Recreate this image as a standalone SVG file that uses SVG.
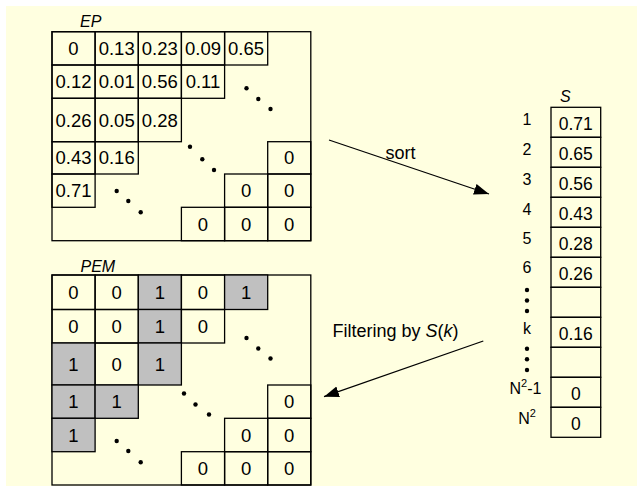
<svg xmlns="http://www.w3.org/2000/svg" width="637" height="486" viewBox="0 0 637 486">
<style>
.c{fill:none;stroke:#000;stroke-width:1.3}
.g{fill:#C0C0C0;stroke:#000;stroke-width:1.3}
.t{font-family:"Liberation Sans",Arial,sans-serif;font-size:18.5px;text-anchor:middle;fill:#000}
.s{font-family:"Liberation Sans",Arial,sans-serif;font-size:17.5px;text-anchor:middle;fill:#000}
.l{font-family:"Liberation Sans",Arial,sans-serif;font-size:16px;text-anchor:middle;fill:#000}
.h{font-family:"Liberation Sans",Arial,sans-serif;font-size:16px;font-style:italic;fill:#000}
.a{font-family:"Liberation Sans",Arial,sans-serif;font-size:18px;fill:#000}
.d{fill:#000}
.w{stroke:#000;stroke-width:1.3;fill:none}
</style>
<defs>
<marker id="arr" markerUnits="userSpaceOnUse" markerWidth="16" markerHeight="12" refX="15" refY="5.5" orient="auto">
<path d="M0,0 L15,5.5 L0,11 z" fill="#000"/>
</marker>
</defs>
<rect x="6" y="6" width="631" height="480" fill="#FFFFE0"/>

<g id="EP">
<text class="h" x="80" y="26.5">EP</text>
<rect class="c" x="52" y="31.7" width="258.8" height="209"/>
<!-- row 0 -->
<rect class="c" x="52" y="31.7" width="43.1" height="33.3"/>
<rect class="c" x="95.1" y="31.7" width="43.2" height="33.3"/>
<rect class="c" x="138.3" y="31.7" width="43.1" height="33.3"/>
<rect class="c" x="181.4" y="31.7" width="43.2" height="33.3"/>
<rect class="c" x="224.6" y="31.7" width="43.1" height="33.3"/>
<text class="t" x="73.5" y="55">0</text>
<text class="t" x="116.7" y="55">0.13</text>
<text class="t" x="159.8" y="55">0.23</text>
<text class="t" x="203" y="55">0.09</text>
<text class="t" x="246.1" y="55">0.65</text>
<!-- row 1 -->
<rect class="c" x="52" y="65" width="43.1" height="33.3"/>
<rect class="c" x="95.1" y="65" width="43.2" height="33.3"/>
<rect class="c" x="138.3" y="65" width="43.1" height="33.3"/>
<rect class="c" x="181.4" y="65" width="43.2" height="33.3"/>
<text class="t" x="73.5" y="88.3">0.12</text>
<text class="t" x="116.7" y="88.3">0.01</text>
<text class="t" x="159.8" y="88.3">0.56</text>
<text class="t" x="203" y="88.3">0.11</text>
<!-- row 2 -->
<rect class="c" x="52" y="98.3" width="43.1" height="43.4"/>
<rect class="c" x="95.1" y="98.3" width="43.2" height="43.4"/>
<rect class="c" x="138.3" y="98.3" width="43.1" height="43.4"/>
<text class="t" x="73.5" y="126.6">0.26</text>
<text class="t" x="116.7" y="126.6">0.05</text>
<text class="t" x="159.8" y="126.6">0.28</text>
<!-- row 3 -->
<rect class="c" x="52" y="141.7" width="43.1" height="32.3"/>
<rect class="c" x="95.1" y="141.7" width="43.2" height="32.3"/>
<rect class="c" x="267.7" y="141.7" width="43.1" height="32.3"/>
<text class="t" x="73.5" y="164.4">0.43</text>
<text class="t" x="116.7" y="164.4">0.16</text>
<text class="t" x="289.2" y="164.4">0</text>
<!-- row 4 -->
<rect class="c" x="52" y="174" width="43.1" height="33.3"/>
<rect class="c" x="224.6" y="174" width="43.1" height="33.3"/>
<rect class="c" x="267.7" y="174" width="43.1" height="33.3"/>
<text class="t" x="73.5" y="197.3">0.71</text>
<text class="t" x="246.1" y="197.3">0</text>
<text class="t" x="289.2" y="197.3">0</text>
<!-- row 5 -->
<rect class="c" x="181.4" y="207.3" width="43.2" height="33.4"/>
<rect class="c" x="224.6" y="207.3" width="43.1" height="33.4"/>
<rect class="c" x="267.7" y="207.3" width="43.1" height="33.4"/>
<text class="t" x="203" y="230.7">0</text>
<text class="t" x="246.1" y="230.7">0</text>
<text class="t" x="289.2" y="230.7">0</text>
<!-- dots -->
<circle class="d" cx="246.5" cy="88.3" r="2.2"/>
<circle class="d" cx="258.3" cy="99" r="2.2"/>
<circle class="d" cx="270.5" cy="109" r="2.2"/>
<circle class="d" cx="190" cy="146.7" r="2.2"/>
<circle class="d" cx="202.3" cy="159.3" r="2.2"/>
<circle class="d" cx="214" cy="170" r="2.2"/>
<circle class="d" cx="116.7" cy="191" r="2.2"/>
<circle class="d" cx="128.3" cy="201" r="2.2"/>
<circle class="d" cx="140.7" cy="212.3" r="2.2"/>
</g>

<g id="PEM">
<text class="h" x="80.5" y="271.5">PEM</text>
<rect class="c" x="52" y="275" width="258.8" height="210"/>
<!-- row 0 -->
<rect class="c" x="52" y="275" width="43.1" height="34.5"/>
<rect class="c" x="95.1" y="275" width="43.2" height="34.5"/>
<rect class="g" x="138.3" y="275" width="43.1" height="34.5"/>
<rect class="c" x="181.4" y="275" width="43.2" height="34.5"/>
<rect class="g" x="224.6" y="275" width="43.1" height="34.5"/>
<text class="t" x="73.5" y="299">0</text>
<text class="t" x="116.7" y="299">0</text>
<text class="t" x="159.8" y="299">1</text>
<text class="t" x="203" y="299">0</text>
<text class="t" x="246.1" y="299">1</text>
<!-- row 1 -->
<rect class="c" x="52" y="309.5" width="43.1" height="33.5"/>
<rect class="c" x="95.1" y="309.5" width="43.2" height="33.5"/>
<rect class="g" x="138.3" y="309.5" width="43.1" height="33.5"/>
<rect class="c" x="181.4" y="309.5" width="43.2" height="33.5"/>
<text class="t" x="73.5" y="333">0</text>
<text class="t" x="116.7" y="333">0</text>
<text class="t" x="159.8" y="333">1</text>
<text class="t" x="203" y="333">0</text>
<!-- row 2 -->
<rect class="g" x="52" y="343" width="43.1" height="42"/>
<rect class="c" x="95.1" y="343" width="43.2" height="42"/>
<rect class="g" x="138.3" y="343" width="43.1" height="42"/>
<text class="t" x="73.5" y="370.5">1</text>
<text class="t" x="116.7" y="370.5">0</text>
<text class="t" x="159.8" y="370.5">1</text>
<!-- row 3 -->
<rect class="g" x="52" y="385" width="43.1" height="33.3"/>
<rect class="g" x="95.1" y="385" width="43.2" height="33.3"/>
<rect class="c" x="267.7" y="385" width="43.1" height="33.3"/>
<text class="t" x="73.5" y="408.3">1</text>
<text class="t" x="116.7" y="408.3">1</text>
<text class="t" x="289.2" y="408.3">0</text>
<!-- row 4 -->
<rect class="g" x="52" y="418.3" width="43.1" height="33.4"/>
<rect class="c" x="224.6" y="418.3" width="43.1" height="33.4"/>
<rect class="c" x="267.7" y="418.3" width="43.1" height="33.4"/>
<text class="t" x="73.5" y="441.6">1</text>
<text class="t" x="246.1" y="441.6">0</text>
<text class="t" x="289.2" y="441.6">0</text>
<!-- row 5 -->
<rect class="c" x="181.4" y="451.7" width="43.2" height="33.3"/>
<rect class="c" x="224.6" y="451.7" width="43.1" height="33.3"/>
<rect class="c" x="267.7" y="451.7" width="43.1" height="33.3"/>
<text class="t" x="203" y="475">0</text>
<text class="t" x="246.1" y="475">0</text>
<text class="t" x="289.2" y="475">0</text>
<!-- dots -->
<circle class="d" cx="246.5" cy="338" r="2.2"/>
<circle class="d" cx="258.3" cy="348.5" r="2.2"/>
<circle class="d" cx="270.5" cy="358.5" r="2.2"/>
<circle class="d" cx="184" cy="393.5" r="2.2"/>
<circle class="d" cx="195.5" cy="404.5" r="2.2"/>
<circle class="d" cx="209" cy="414.5" r="2.2"/>
<circle class="d" cx="116.7" cy="441" r="2.2"/>
<circle class="d" cx="128.3" cy="451" r="2.2"/>
<circle class="d" cx="140.7" cy="462.3" r="2.2"/>
</g>

<g id="S">
<text class="h" x="560" y="101.5">S</text>
<rect class="c" x="551" y="107.3" width="49.7" height="30"/>
<rect class="c" x="551" y="137.3" width="49.7" height="30"/>
<rect class="c" x="551" y="167.3" width="49.7" height="30"/>
<rect class="c" x="551" y="197.3" width="49.7" height="30"/>
<rect class="c" x="551" y="227.3" width="49.7" height="30"/>
<rect class="c" x="551" y="257.3" width="49.7" height="30"/>
<rect class="c" x="551" y="287.3" width="49.7" height="30"/>
<rect class="c" x="551" y="317.3" width="49.7" height="30"/>
<rect class="c" x="551" y="347.3" width="49.7" height="30"/>
<rect class="c" x="551" y="377.3" width="49.7" height="30"/>
<rect class="c" x="551" y="407.3" width="49.7" height="30"/>
<text class="s" x="575.8" y="130">0.71</text>
<text class="s" x="575.8" y="160">0.65</text>
<text class="s" x="575.8" y="190">0.56</text>
<text class="s" x="575.8" y="220">0.43</text>
<text class="s" x="575.8" y="250">0.28</text>
<text class="s" x="575.8" y="280">0.26</text>
<text class="s" x="575.8" y="340">0.16</text>
<text class="s" x="575.8" y="400">0</text>
<text class="s" x="575.8" y="430">0</text>
<text class="l" x="527" y="125">1</text>
<text class="l" x="527" y="155">2</text>
<text class="l" x="527" y="184.5">3</text>
<text class="l" x="527" y="215">4</text>
<text class="l" x="527" y="244">5</text>
<text class="l" x="527" y="273">6</text>
<text class="l" x="527" y="333.5">k</text>
<text class="l" x="525.5" y="393.5">N<tspan font-size="11" dy="-7">2</tspan><tspan dy="7">-1</tspan></text>
<text class="l" x="527" y="423.5">N<tspan font-size="11" dy="-7">2</tspan></text>
<circle class="d" cx="527" cy="290" r="2.2"/>
<circle class="d" cx="527" cy="300.5" r="2.2"/>
<circle class="d" cx="527" cy="311" r="2.2"/>
<circle class="d" cx="527" cy="348.7" r="2.2"/>
<circle class="d" cx="527" cy="359.3" r="2.2"/>
<circle class="d" cx="527" cy="370" r="2.2"/>
</g>

<g id="connectors">
<line class="w" x1="329" y1="140" x2="489" y2="194" marker-end="url(#arr)"/>
<text class="a" x="385.5" y="158.5">sort</text>
<line class="w" x1="483.3" y1="341" x2="324" y2="396.7" marker-end="url(#arr)"/>
<text class="a" x="332.5" y="336.5">Filtering by <tspan font-style="italic">S</tspan>(<tspan font-style="italic">k</tspan>)</text>
</g>
</svg>
